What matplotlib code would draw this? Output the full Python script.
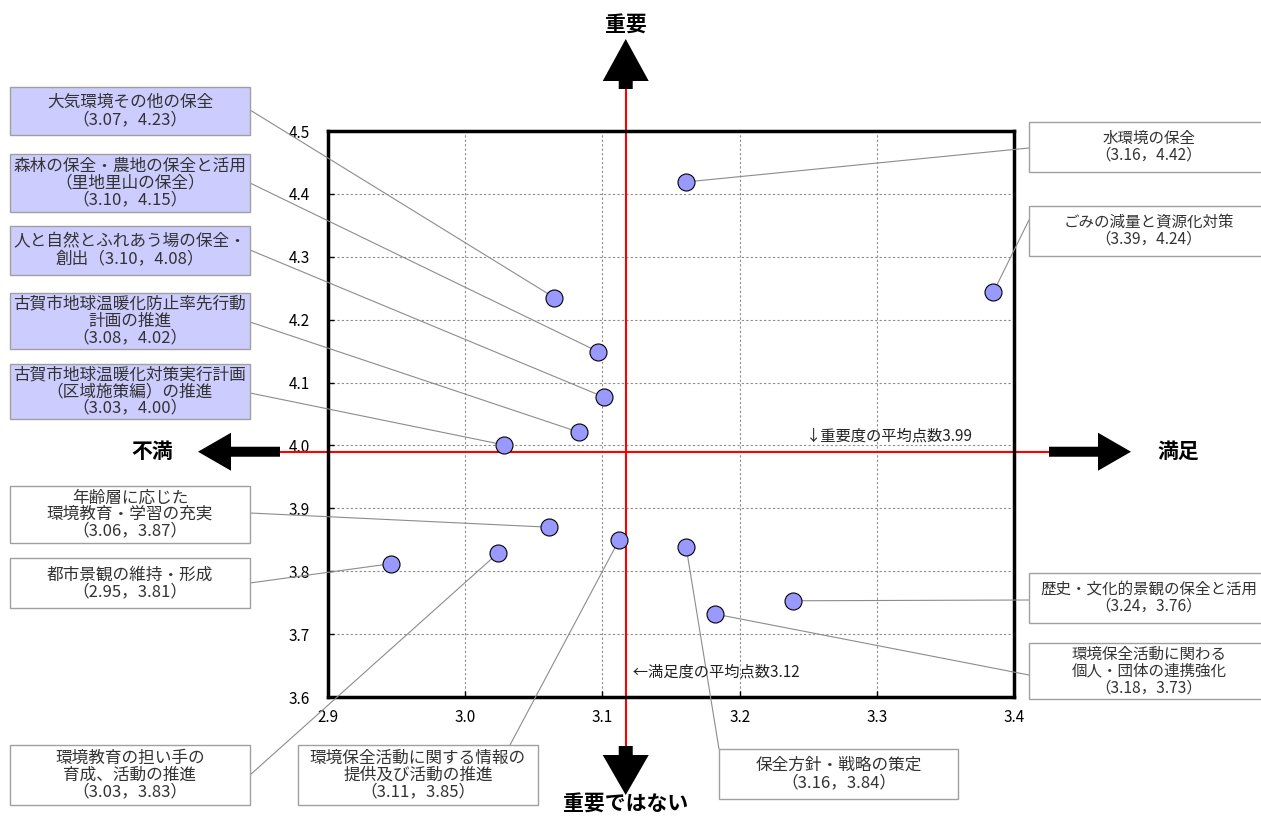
"""Importance / satisfaction scatter chart for environmental measures."""
from matplotlib import pyplot as plt
from matplotlib.patches import Rectangle, Polygon, ConnectionPatch
from matplotlib.transforms import IdentityTransform

plt.rcParams['font.family'] = ['Noto Sans CJK JP', 'DejaVu Sans']

# data: satisfaction (x) and importance (y)
labels = [
    "大気環境その他の保全\n（3.07，4.23）",
    "森林の保全・農地の保全と活用\n（里地里山の保全）\n（3.10，4.15）",
    "人と自然とふれあう場の保全・\n創出（3.10，4.08）",
    "古賀市地球温暖化防止率先行動\n計画の推進\n（3.08，4.02）",
    "古賀市地球温暖化対策実行計画\n（区域施策編）の推進\n（3.03，4.00）",
    "年齢層に応じた\n環境教育・学習の充実\n（3.06，3.87）",
    "都市景観の維持・形成\n（2.95，3.81）",
    "環境教育の担い手の\n育成、活動の推進\n（3.03，3.83）",
    "環境保全活動に関する情報の\n提供及び活動の推進\n（3.11，3.85）",
    "保全方針・戦略の策定\n（3.16，3.84）",
    "環境保全活動に関わる\n個人・団体の連携強化\n（3.18，3.73）",
    "歴史・文化的景観の保全と活用\n（3.24，3.76）",
    "ごみの減量と資源化対策\n（3.39，4.24）",
    "水環境の保全\n（3.16，4.42）",
]
satisfaction = [3.065, 3.097, 3.101, 3.083, 3.028, 3.061, 2.946,
                3.024, 3.112, 3.161, 3.182, 3.239, 3.385, 3.161]
importance = [4.235, 4.149, 4.077, 4.021, 4.001, 3.870, 3.812,
              3.829, 3.849, 3.839, 3.732, 3.753, 4.244, 4.419]
mean_sat = 3.117
mean_imp = 3.99
x_ticks = [2.9, 3.0, 3.1, 3.2, 3.3, 3.4]
y_ticks = [3.6, 3.7, 3.8, 3.9, 4.0, 4.1, 4.2, 4.3, 4.4, 4.5]

# label boxes in pixels from the top-left: (left, top, width, height),
# leader start point, highlighted or not
W, H = 1261, 816
boxes = [
    ((10, 87, 240, 48), (250, 110), True),
    ((10, 154, 240, 58), (250, 183), True),
    ((10, 226, 240, 49), (250, 250), True),
    ((10, 293, 240, 56), (250, 322), True),
    ((10, 364, 240, 55), (250, 393), True),
    ((10, 486, 240, 57), (250, 513), False),
    ((10, 558, 240, 50), (250, 583), False),
    ((10, 745, 240, 60), (250, 775), False),
    ((298, 745, 240, 60), (510, 745), False),
    ((719, 749, 239, 50), (719, 749), False),
    ((1029, 643, 240, 56), (1029, 675), False),
    ((1029, 573, 240, 50), (1029, 600), False),
    ((1029, 206, 240, 50), (1029, 220), False),
    ((1029, 122, 240, 50), (1029, 148), False),
]


def fig_px(x, y):
    """Convert top-left pixel coords to figure fraction."""
    return x / W, 1 - y / H


fig = plt.figure(figsize=(W / 100, H / 100), dpi=100)
fig.patch.set_facecolor('white')
ax = fig.add_axes([328 / W, 1 - 697 / H, (1014 - 328) / W, (697 - 131) / H])
ax.set_xlim(2.9, 3.4)
ax.set_ylim(3.6, 4.5)
ax.set_xticks(x_ticks)
ax.set_yticks(y_ticks)
ax.set_xticklabels([f'{v:.1f}' for v in x_ticks])
ax.set_yticklabels([f'{v:.1f}' for v in y_ticks])
ax.tick_params(direction='in', length=4, width=1, labelsize=11)
ax.tick_params(axis='y', pad=13)
ax.tick_params(axis='x', pad=9)
for spine in ax.spines.values():
    spine.set_linewidth(2.5)
ax.grid(True, color='#8c8c8c', linestyle=(0, (2, 2)), linewidth=0.8)
ax.set_axisbelow(True)

# mean lines reaching outside the plot
ax.axvline(mean_sat, ymin=-0.087, ymax=1.074, color='red', lw=1.5,
           clip_on=False, zorder=2)
ax.axhline(mean_imp, xmin=-0.07, xmax=1.051, color='red', lw=1.5,
           clip_on=False, zorder=2)
ax.text(mean_sat, 3.64, '  ←満足度の平均点数3.12', fontsize=11,
        ha='left', va='center', zorder=4, color='#222222')
ax.text(3.248, mean_imp + 0.012, '↓重要度の平均点数3.99', fontsize=11,
        ha='left', va='bottom', zorder=4, color='#222222')

ax.scatter(satisfaction, importance, s=150, color='#9999ff',
           edgecolor='black', linewidth=0.8, zorder=5)

# label boxes and leader lines
for text, (box, start, shaded), x, y in zip(labels, boxes, satisfaction, importance):
    left, top, bw, bh = box
    x0, y0 = fig_px(left, top + bh)
    fig.add_artist(Rectangle((x0, y0), bw / W, bh / H,
                             transform=fig.transFigure,
                             facecolor='#ccccff' if shaded else 'white',
                             edgecolor='#a0a0a0', linewidth=1))
    # boxes running off the right edge get a slightly smaller font
    size = 11.2 if left + bw > W else 12
    cx, cy = fig_px(left + bw / 2, top + bh / 2)
    fig.text(cx, cy, text, ha='center', va='center', fontsize=size,
             linespacing=0.98, color='#333333')
    line = ConnectionPatch(xyA=fig_px(*start), coordsA='figure fraction',
                           xyB=(x, y), coordsB='data', axesB=ax,
                           color='#8c8c8c', linewidth=0.8, zorder=3)
    line.set_clip_on(False)
    ax.add_artist(line)


def block_arrow(sx, sy, dx, dy, shaft, head, shaft_w, head_w):
    """Draw a filled block arrow in display pixels from (sx, sy)."""
    px, py = -dy, dx
    pts = [
        (sx + px * shaft_w / 2, sy + py * shaft_w / 2),
        (sx + dx * shaft + px * shaft_w / 2, sy + dy * shaft + py * shaft_w / 2),
        (sx + dx * shaft + px * head_w / 2, sy + dy * shaft + py * head_w / 2),
        (sx + dx * (shaft + head), sy + dy * (shaft + head)),
        (sx + dx * shaft - px * head_w / 2, sy + dy * shaft - py * head_w / 2),
        (sx + dx * shaft - px * shaft_w / 2, sy + dy * shaft - py * shaft_w / 2),
        (sx - px * shaft_w / 2, sy - py * shaft_w / 2),
    ]
    fig.add_artist(Polygon(pts, closed=True, facecolor='black',
                           edgecolor='none', transform=IdentityTransform()))


cx, cy = ax.transData.transform((mean_sat, mean_imp))
block_arrow(cx, H - 89, 0, 1, 8, 42, 14, 46)
block_arrow(cx, H - 746, 0, -1, 9, 40, 14, 46)
block_arrow(280, cy, -1, 0, 49, 33, 10, 38)
block_arrow(1049, cy, 1, 0, 49, 33, 10, 38)

bold = dict(fontsize=15, fontweight='bold', ha='center', va='center')
fig.text(cx / W, 1 - 25 / H, '重要', **bold)
fig.text(cx / W, 1 - 804 / H, '重要ではない', **bold)
fig.text(152 / W, cy / H, '不満', **bold)
fig.text(1178 / W, cy / H, '満足', **bold)

fig.savefig('out.png', dpi=100)
